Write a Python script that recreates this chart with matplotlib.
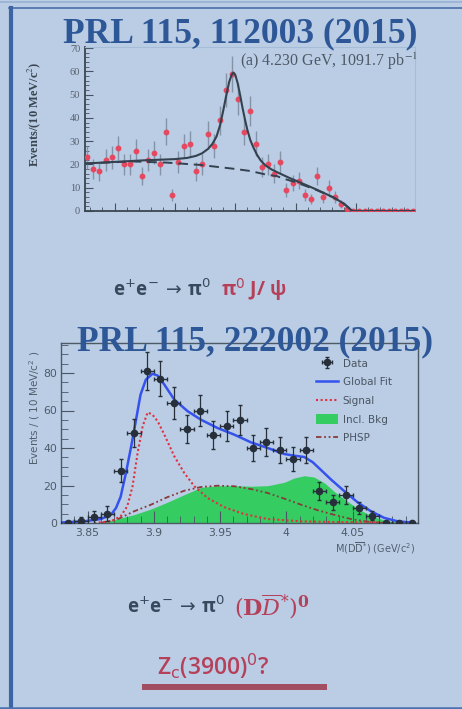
import numpy as np
import matplotlib
matplotlib.use("Agg")
import matplotlib.pyplot as plt
from matplotlib.lines import Line2D
from matplotlib.patches import Patch

W, H = 462, 709
BG = "#bacde5"
TITLE_BLUE = "#2d5797"
DARK = "#37495c"
RED = "#b5405a"

# ---- upper plot: PRL 115, 112003 (pi0 J/psi spectrum, 10 MeV bins)
top_mass = np.round(np.arange(3.655, 4.2, 0.01), 3)  # bin centres
top_counts = [23, 18, 17, 22, 23, 27, 20, 20, 26, 15, 22, 25, 20, 34, 7, 21, 28, 29, 17, 20,
              33, 28, 39, 52, 59, 48, 34, 43, 29, 19, 20, 16, 21, 9, 12, 13, 7, 5, 15, 6,
              10, 6, 3, 1, 0, 0, 0, 0, 0, 0, 0, 0, 0, 0, 0]
top_err = [4.8, 4.2, 4.1, 4.7, 4.8, 5.2, 4.5, 4.5, 5.1, 3.9, 4.7, 5.0, 4.5, 5.8, 2.6, 4.6, 5.3, 5.4, 4.1, 4.5,
           5.7, 5.3, 6.2, 7.2, 7.7, 6.9, 5.8, 6.6, 5.4, 4.4, 4.5, 4.0, 4.6, 3.0, 3.5, 3.6, 2.6, 2.2, 3.9, 2.4,
           3.2, 2.4, 1.7, 1.0, 0, 0, 0, 0, 0, 0, 0, 0, 0, 0, 0]
top_fit_m = [3.651, 3.70, 3.75, 3.80, 3.82, 3.835, 3.845, 3.855, 3.862, 3.869, 3.875, 3.880, 3.885,
             3.890, 3.894, 3.897, 3.900, 3.904, 3.908, 3.912, 3.916, 3.920, 3.925, 3.930, 3.936,
             3.942, 3.950, 3.960, 3.970, 3.990, 4.010, 4.035, 4.063, 4.080, 4.092, 4.095, 4.198]
top_fit = [20.4, 21.1, 21.8, 22.3, 22.8, 23.7, 24.8, 26.7, 28.8, 32.0, 37.0, 43.0, 49.5,
           55.5, 58.5, 59.5, 58.6, 55.0, 50.0, 44.5, 39.5, 35.0, 30.5, 27.4, 24.2,
           21.8, 19.6, 17.9, 16.6, 14.2, 12.0, 9.2, 5.8, 3.2, 0.5, 0.0, 0.0]
top_bkg_m = [3.651, 3.70, 3.731, 3.787, 3.842, 3.896, 3.925, 3.952, 3.969, 3.98, 4.00, 4.035,
             4.063, 4.080, 4.092, 4.095, 4.198]
top_bkg = [20.4, 21.0, 21.3, 20.8, 19.8, 18.2, 17.2, 15.6, 15.0, 13.9, 12.4, 9.0,
           5.8, 3.2, 0.5, 0.0, 0.0]

# ---- lower plot: PRL 115, 222002 (D D*bar spectrum)
bot_mass = np.round(np.arange(3.835, 4.1, 0.01), 3)  # bin centres
bot_counts = [0, 1, 3, 5, 28, 48, 81, 77, 64, 50, 60, 47, 52, 55, 40, 43, 39, 34, 39, 17,
              11, 15, 8, 4, 0, 0, 0]
bot_err = [0, 2.0, 3.5, 4.0, 6.0, 7.5, 10.0, 9.5, 8.5, 7.5, 8.5, 7.5, 8.0, 8.0, 7.0, 7.5, 7.0, 6.5, 7.0, 4.8,
           3.8, 4.8, 3.2, 2.4, 0, 0, 0]
fit_m = [3.831, 3.8476, 3.860, 3.8677, 3.8715, 3.875, 3.879, 3.883, 3.8866, 3.890, 3.894, 3.899,
         3.903, 3.908, 3.9155, 3.9256, 3.9356, 3.948, 3.9608, 3.9734, 3.986, 3.9985, 4.006,
         4.0136, 4.020, 4.026, 4.0339, 4.0439, 4.0539, 4.064, 4.074, 4.084, 4.0955]
fit_v = [0.3, 0.9, 2.1, 4.4, 8.0, 14.0, 26.7, 41.0, 55.0, 68.4, 76.4, 79.6,
         78.6, 73.8, 65.8, 59.6, 55.1, 50.7, 47.1, 43.0, 40.0, 36.8, 35.9,
         35.2, 32.4, 28.4, 23.1, 16.9, 11.0, 6.2, 2.7, 0.9, 0.2]
sig_m = [3.855, 3.8677, 3.875, 3.880, 3.884, 3.8878, 3.8916, 3.8954, 3.899, 3.903, 3.908, 3.9155,
         3.923, 3.9306, 3.9407, 3.953, 3.968, 3.986, 4.011, 4.036, 4.0955]
sig_v = [0.0, 0.9, 3.6, 8.9, 19.6, 37.3, 51.6, 59.0, 57.8, 54.2, 47.1, 35.6,
         26.7, 19.6, 13.3, 8.5, 4.8, 2.1, 0.9, 0.5, 0.2]
bkg_m = [3.860, 3.870, 3.885, 3.898, 3.910, 3.923, 3.9356, 3.948, 3.9608, 3.9734, 3.986, 3.9985,
         4.006, 4.0136, 4.021, 4.029, 4.036, 4.046, 4.056, 4.0665, 4.0765, 4.0865]
bkg_v = [0.0, 1.8, 4.4, 7.5, 11.0, 15.1, 19.0, 19.9, 19.9, 19.6, 19.9, 21.7,
         24.0, 25.2, 24.5, 21.3, 16.9, 11.6, 6.8, 3.2, 1.1, 0.2]
phsp_m = [3.860, 3.8727, 3.885, 3.898, 3.910, 3.923, 3.9356, 3.948, 3.9608, 3.9734, 3.986, 3.9985,
          4.011, 4.0237, 4.036, 4.0489, 4.0615, 4.074]
phsp_v = [0.0, 2.0, 6.2, 9.8, 13.7, 17.2, 19.2, 19.9, 19.6, 18.1, 16.0, 13.0,
          9.8, 6.8, 4.4, 2.1, 0.7, 0.0]
legend_labels = ["Data", "Global Fit", "Signal", "Incl. Bkg", "PHSP"]


def fx(x):
    return x / W


def fy(y):
    return 1 - y / H


fig = plt.figure(figsize=(W / 100, H / 100), dpi=100, facecolor=BG)
renderer = fig.canvas.get_renderer()

# slide frame
fig.add_artist(Line2D([0, 1], [fy(1.5), fy(1.5)], color="#98b2d2", lw=1.2))
fig.add_artist(Line2D([fx(9), 1], [fy(8), fy(8)], color="#4a6fa8", lw=1.2))
fig.add_artist(Line2D([fx(10.5), fx(10.5)], [fy(8), 0], color="#3d65a3", lw=3))
fig.add_artist(Line2D([0, 1], [fy(707.5), fy(707.5)], color="#4a72b0", lw=1.8))

# ---- upper axes
ax1 = fig.add_axes([fx(85), fy(211), fx(415) - fx(85), fy(47) - fy(211)])
ax1.patch.set_alpha(0)
ax1.errorbar(top_mass, top_counts, yerr=top_err, fmt="o", ms=3.2, color="#e5485f",
             ecolor="#8593a8", elinewidth=1.0, capsize=0, zorder=3)
ax1.plot(top_bkg_m, top_bkg, color="#34414f", lw=1.4, ls=(0, (5, 3)), zorder=4)
ax1.plot(top_fit_m, top_fit, color="#34414f", lw=1.5, zorder=5)
ax1.set_xlim(3.651, 4.198)
ax1.set_ylim(0, 70.5)
ax1.set_yticks(range(0, 71, 10))
ax1.set_yticks(range(0, 71, 2), minor=True)
ax1.set_xticks(np.arange(3.7, 4.2, 0.1))
ax1.set_xticks(np.arange(3.66, 4.2, 0.02), minor=True)
ax1.tick_params(which="both", direction="in", labelbottom=False, colors="#46525f")
ax1.tick_params(which="major", length=6)
ax1.tick_params(which="minor", length=3)
for lab in ax1.get_yticklabels():
    lab.set_family("Liberation Serif")
    lab.set_fontsize(7.5)
    lab.set_color("#56616e")
for side in ["left", "bottom"]:
    ax1.spines[side].set_color("#3a4550")
    ax1.spines[side].set_linewidth(1.3)
for side in ["top", "right"]:
    ax1.spines[side].set_color("#a7bcd6")
    ax1.spines[side].set_linewidth(0.8)
ax1.text(0.47, 0.885, "(a) 4.230 GeV, 1091.7 pb$^{-1}$", transform=ax1.transAxes,
         family="Liberation Serif", fontsize=11.5, color="#4e5966", math_fontfamily="stix")
fig.text(fx(34), fy(114), "Events/(10 MeV/c$^2$)", rotation=90, ha="center", va="center",
         family="Liberation Serif", fontweight="bold", fontsize=9, color="#3a4550",
         math_fontfamily="stix")

# ---- lower axes
ax2 = fig.add_axes([fx(61), fy(523), fx(418) - fx(61), fy(343) - fy(523)])
ax2.patch.set_alpha(0)
ax2.fill_between(bkg_m, bkg_v, color="#35cc62", lw=0, zorder=1)
ax2.plot(phsp_m, phsp_v, color="#8a3a3a", lw=1.3, ls=(0, (3, 1.5, 1, 1.5, 1, 1.5)), zorder=3)
ax2.plot(sig_m, sig_v, color="#e0303f", lw=1.5, ls=(0, (1, 1.2)), zorder=3)
ax2.plot(fit_m, fit_v, color="#3552ee", lw=1.8, zorder=4)
data_h = ax2.errorbar(bot_mass, bot_counts, xerr=0.005, yerr=bot_err, fmt="o", ms=4.5,
                      color="#27303a", ecolor="#27303a", elinewidth=0.9, capsize=1.5, zorder=5)
ax2.set_xlim(3.830, 4.0994)
ax2.set_ylim(0, 96)
ax2.set_xticks([3.85, 3.9, 3.95, 4.0, 4.05])
ax2.set_xticklabels(["3.85", "3.9", "3.95", "4", "4.05"])
ax2.set_xticks(np.arange(3.84, 4.1, 0.01), minor=True)
ax2.set_yticks([0, 20, 40, 60, 80])
ax2.set_yticks(range(0, 96, 5), minor=True)
ax2.tick_params(which="both", direction="in", colors="#4a5563", labelsize=7.8,
                labelcolor="#4e5a68")
ax2.tick_params(which="major", length=9)
ax2.tick_params(which="minor", length=5)
ax2.tick_params(axis="y", pad=2.5)
for s in ax2.spines.values():
    s.set_color("#4e5966")
    s.set_linewidth(1.0)
fig.text(fx(35), fy(408), "Events / ( 10 MeV/c$^2$ )", rotation=90, ha="center", va="center",
         fontsize=7.5, color="#525e6c")
fig.text(fx(415), fy(548), r"M(D$\overline{\rm D}$$^{*}$) (GeV/c$^2$)", ha="right", va="center",
         fontsize=7, color="#525e6c")

handles = [data_h,
           Line2D([], [], color="#3552ee", lw=1.8),
           Line2D([], [], color="#e0303f", lw=1.5, ls=(0, (1, 1.2))),
           Patch(facecolor="#35cc62", edgecolor="none"),
           Line2D([], [], color="#8a3a3a", lw=1.3, ls=(0, (3, 1.5, 1, 1.5, 1, 1.5)))]
leg = ax2.legend(handles, legend_labels, loc="upper left",
                 bbox_to_anchor=(fx(311), fy(353)), bbox_transform=fig.transFigure,
                 frameon=False, fontsize=7.5, handlelength=2.1, handleheight=1.1,
                 labelspacing=0.78, handletextpad=0.45, borderpad=0)
for t in leg.get_texts():
    t.set_color("#4a5563")

# ---- slide texts
fig.text(fx(240), fy(42), "PRL 115, 112003 (2015)", ha="center", va="baseline",
         family="Liberation Serif", fontweight="bold", fontsize=25.5, color=TITLE_BLUE)
fig.text(fx(255), fy(350), "PRL 115, 222002 (2015)", ha="center", va="baseline",
         family="Liberation Serif", fontweight="bold", fontsize=25.5, color=TITLE_BLUE, zorder=10)

sans = ["Open Sans", "DejaVu Sans"]
t = fig.text(fx(113), fy(290), r"e$^{+}$e$^{-}$$\,\rightarrow\,$π$^{0}$", ha="left", va="center",
             family=sans, fontweight="bold", fontsize=13.5, color=DARK, math_fontfamily="dejavusans")
x_end = t.get_window_extent(renderer).x1
fig.text((x_end + 10) / W, fy(290), "π$^{0}$ J/ ψ", ha="left", va="center",
         family=sans, fontweight="bold", fontsize=14, color=RED, math_fontfamily="dejavusans")
t = fig.text(fx(127), fy(607), r"e$^{+}$e$^{-}$$\,\rightarrow\,$π$^{0}$", ha="left", va="center",
             family=sans, fontweight="bold", fontsize=13.5, color=DARK, math_fontfamily="dejavusans")
x_end = t.get_window_extent(renderer).x1
fig.text((x_end + 9) / W, fy(607), r"$(\mathbf{D}\overline{D}$$^{*})^{\mathbf{0}}$", ha="left",
         va="center", fontsize=16, color=RED, math_fontfamily="dejavuserif")
fig.text(fx(157), fy(666), r"Z$_{\rm c}$(3900)$^{0}$?", ha="left", va="center",
         family=sans, fontweight="semibold", fontsize=16.5, color=RED, math_fontfamily="dejavusans")
fig.add_artist(Line2D([fx(142), fx(327)], [fy(687), fy(687)], color="#a24e62", lw=4.3,
                      solid_capstyle="butt"))

fig.savefig("out.png", dpi=100, facecolor=BG)
